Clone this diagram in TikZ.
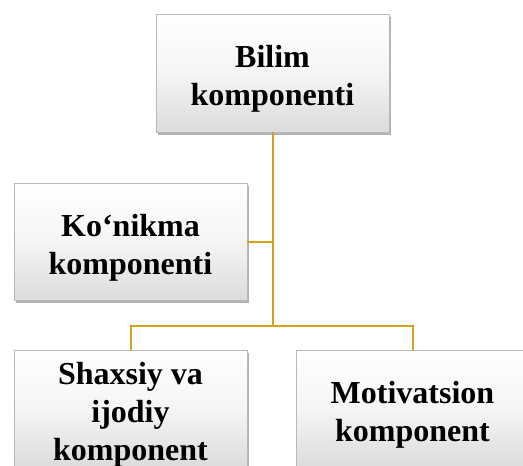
\documentclass[tikz,border=0pt]{standalone}
\usepackage{fontspec}
\setmainfont{Liberation Serif}
\usetikzlibrary{shadows}
\definecolor{linkc}{RGB}{214,162,24}
\definecolor{boxborder}{RGB}{185,185,185}
\newcommand{\topstrut}{\rule{0pt}{34pt}}
\tikzset{
  compbox/.style={draw=boxborder, line width=0.6pt, top color=white, bottom color=black!14,
    middle color=white!96!black,
    minimum width=233pt, minimum height=118pt, inner sep=0pt, align=center,
    font=\fontsize{32}{38}\selectfont\bfseries,
    drop shadow={shadow xshift=2pt, shadow yshift=-3pt, fill=black, opacity=0.3}},
  link/.style={draw=linkc, line width=2pt}
}
\begin{document}
\begin{tikzpicture}[x=1pt,y=-1pt]
\useasboundingbox (0,0) rectangle (523,466);
\clip (0,0) rectangle (523,466);
\node[compbox] (bilim) at (272.5,73) {\topstrut Bilim\\komponenti};
\node[compbox, minimum height=117pt] (konikma) at (130.5,241.5) {\topstrut Ko‘nikma\\komponenti};
\node[compbox] (shaxsiy) at (130.5,409) {\topstrut Shaxsiy va\\ijodiy\\komponent};
\node[compbox] (motiv) at (412.5,409) {\topstrut Motivatsion\\komponent};
\coordinate (junc) at (272.5,326);
\draw[link] (bilim.south) -- (junc);
\draw[link] (konikma.east) -- (konikma.east -| junc);
\draw[link] (shaxsiy.north) |- (junc) -| (motiv.north);
\end{tikzpicture}
\end{document}
